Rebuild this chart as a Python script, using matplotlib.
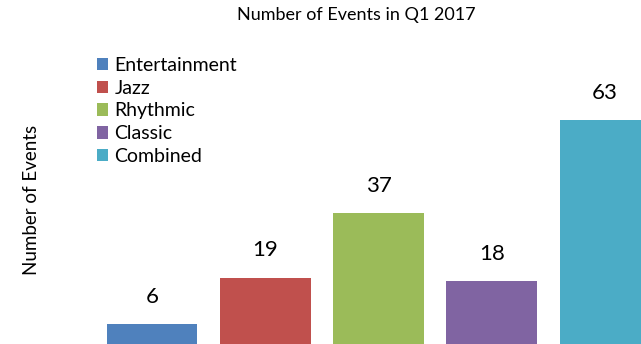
import matplotlib
matplotlib.use("Agg")
import matplotlib.pyplot as plt

# ─── Data ─────────────────────────────────────────────
categories = ["Entertainment", "Jazz", "Rhythmic", "Classic", "Combined"]
values = [6, 19, 37, 18, 63]
colours = ["#4F81BD", "#C0504D", "#9BBB59", "#8064A2", "#4BACC6"]

plt.rcParams["font.family"] = ["Lato", "DejaVu Sans"]

W, H = 641, 344
fig = plt.figure(figsize=(W / 100, H / 100), dpi=100)
fig.patch.set_facecolor("white")

# axes fills the whole canvas; limits put the bars where the reference has them
ax = fig.add_axes([0, 0, 1, 1])
px_per_cat = 113.25
px_per_unit = 3.577
x0 = 152.0
base_below = 1.5   # baseline sits just under the bottom edge
ax.set_xlim(-x0 / px_per_cat, (W - x0) / px_per_cat)
ax.set_ylim(base_below / px_per_unit, (H + base_below) / px_per_unit)
ax.axis("off")

bars = ax.bar(range(len(values)), values, width=0.8, color=colours,
              label=categories)
for b, v in zip(bars, values):
    ax.annotate(str(v), (b.get_x() + b.get_width() / 2, v),
                xytext=(0, 19.5), textcoords="offset points",
                ha="center", va="center", fontsize=16, color="#000000")

handles = list(bars)
fig.legend(handles, categories, loc="upper left",
           bbox_to_anchor=(87 / W, 1 - 47 / H), frameon=False,
           fontsize=14, handlelength=0.6, handleheight=0.6,
           handletextpad=0.3, labelspacing=0.3, borderpad=0)

fig.text(356 / W, 1 - 15 / H, "Number of Events in Q1 2017",
         ha="center", va="center", fontsize=13)
fig.text(32 / W, 1 - 200 / H, "Number of Events", rotation=90,
         ha="center", va="center", fontsize=13.5)

fig.savefig("out.png", dpi=100, facecolor="white")
